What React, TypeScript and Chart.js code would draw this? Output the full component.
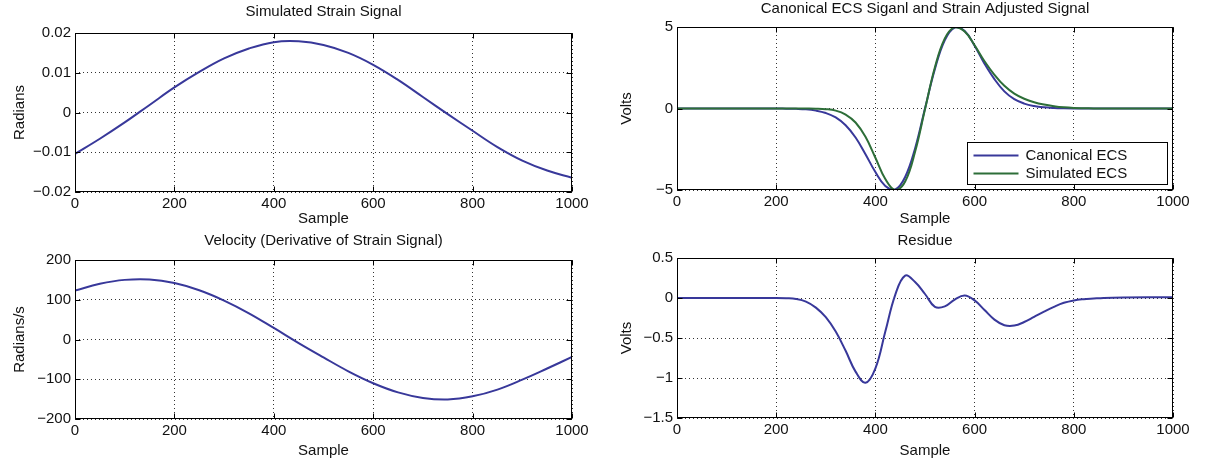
import React, { useEffect, useRef } from 'react';
import { Chart, registerables } from 'chart.js';

Chart.register(...registerables);

// ---------------- data ----------------
const xTicks = [0, 200, 400, 600, 800, 1000];
const strainTicks = [-0.02, -0.01, 0, 0.01, 0.02];
const ecsTicks = [-5, 0, 5];
const velocityTicks = [-200, -100, 0, 100, 200];
const residueTicks = [-1.5, -1, -0.5, 0, 0.5];

const sineSamples = [0, 50, 100, 150, 200, 250, 300, 350, 400, 450, 500, 550, 600, 650, 700, 750, 800, 850, 900, 950, 1000];
const strainValues = [-0.0104, -0.0066, -0.0025, 0.0019, 0.0063, 0.0102, 0.0136, 0.0161, 0.0177, 0.0179, 0.017, 0.015, 0.012, 0.0082, 0.0039, -0.0004, -0.0046, -0.0087, -0.0121, -0.0146, -0.0164];
const velocityValues = [123, 140, 150, 151, 142, 124, 98, 66, 29, -9, -45, -80, -110, -133, -147, -151, -143, -126, -101, -73, -44];

const ecsSamples = [0, 100, 200, 220, 240, 260, 280, 300, 320, 340, 360, 380, 400, 420, 440, 460, 480, 500, 520, 540, 560, 580, 600, 620, 640, 660, 680, 700, 720, 740, 760, 780, 800, 820, 840, 860, 900, 1000];
const canonicalEcs = [0, 0, 0, -0.01, -0.02, -0.05, -0.13, -0.28, -0.55, -1.03, -1.78, -2.8, -3.9, -4.75, -4.97, -4.2, -2.45, 0, 2.42, 4.2, 4.97, 4.75, 3.85, 2.75, 1.8, 1.05, 0.57, 0.3, 0.15, 0.07, 0.03, 0.01, 0, 0, 0, 0, 0, 0];
const simulatedEcs = [0, 0, 0, 0, 0, -0.003, -0.01, -0.04, -0.13, -0.37, -0.86, -1.74, -3.02, -4.33, -5.0, -4.48, -2.65, -0.05, 2.53, 4.3, 4.99, 4.72, 3.88, 2.9, 2.07, 1.39, 0.915, 0.6, 0.385, 0.24, 0.14, 0.07, 0.03, 0.015, 0.007, 0, 0, 0];

const residueSamples = [0, 100, 200, 220, 240, 260, 280, 300, 320, 340, 360, 380, 400, 420, 440, 460, 480, 500, 520, 540, 560, 580, 600, 620, 640, 660, 680, 700, 720, 740, 760, 780, 800, 820, 840, 860, 900, 1000];
const residueValues = [0, 0, 0, -0.003, -0.012, -0.045, -0.12, -0.24, -0.42, -0.66, -0.92, -1.06, -0.88, -0.42, 0.04, 0.28, 0.2, 0.05, -0.11, -0.105, -0.02, 0.03, -0.03, -0.15, -0.27, -0.34, -0.345, -0.3, -0.235, -0.17, -0.11, -0.06, -0.03, -0.015, -0.007, 0, 0.005, 0.01];

// ---------------- style ----------------
const FONT_FAMILY = "'Liberation Sans', Arial, Helvetica, sans-serif";
const FONT_SIZE = 15;
const LINE_H = FONT_SIZE * 1.2;
const TEXT = '#111111';
const BLUE = '#38389a';
const GREEN = '#2d6e38';

const fmt = (v: number) => {
  const r = Math.round(v * 1000) / 1000;
  if (r === 0) return '0';
  return r < 0 ? '\u2212' + String(-r) : String(r);
};

const pts = (xs: number[], ys: number[]) => xs.map((x, i) => ({ x, y: ys[i] }));

function boxPlugin(legend: boolean) {
  return {
    id: 'matlabBox',
    afterDraw(chart: any) {
      const { ctx, chartArea: a, scales } = chart;
      const L = Math.round(a.left) + 0.5;
      const R = Math.round(a.right) - 0.5;
      const T = Math.round(a.top) + 0.5;
      const B = Math.round(a.bottom) - 0.5;
      ctx.save();
      ctx.strokeStyle = '#000';
      ctx.lineWidth = 1;
      ctx.setLineDash([]);
      const tl = 5;
      ctx.beginPath();
      for (const t of scales.x.ticks) {
        const px = Math.round(scales.x.getPixelForValue(t.value)) + 0.5;
        ctx.moveTo(px, B);
        ctx.lineTo(px, B - tl);
        ctx.moveTo(px, T);
        ctx.lineTo(px, T + tl);
      }
      for (const t of scales.y.ticks) {
        const py = Math.round(scales.y.getPixelForValue(t.value)) + 0.5;
        ctx.moveTo(L, py);
        ctx.lineTo(L + tl, py);
        ctx.moveTo(R, py);
        ctx.lineTo(R - tl, py);
      }
      ctx.stroke();
      ctx.strokeRect(L, T, R - L, B - T);

      if (legend) {
        const w = 200;
        const h = 42;
        const bx = Math.round(a.right - 6 - w) + 0.5;
        const by = Math.round(a.bottom - 6 - h) + 0.5;
        ctx.fillStyle = '#fff';
        ctx.fillRect(bx, by, w, h);
        ctx.strokeStyle = '#000';
        ctx.lineWidth = 1;
        ctx.strokeRect(bx, by, w, h);
        ctx.font = `${FONT_SIZE}px ${FONT_FAMILY}`;
        ctx.textBaseline = 'middle';
        ctx.textAlign = 'left';
        chart.data.datasets.forEach((ds: any, i: number) => {
          const y = Math.round(by + 12 + i * 18) + 0.5;
          ctx.strokeStyle = ds.borderColor;
          ctx.lineWidth = 2;
          ctx.beginPath();
          ctx.moveTo(bx + 6, y);
          ctx.lineTo(bx + 51, y);
          ctx.stroke();
          ctx.fillStyle = TEXT;
          ctx.fillText(ds.label, bx + 58, y);
        });
      }
      ctx.restore();
    },
  };
}

type Spec = {
  left: number; top: number; width: number; height: number;
  plotLeft: number; plotRight: number; plotTop: number; plotBottom: number;
  titleY: number; xLabelY: number; yLabelX: number;
  title: string; yLabel: string;
  yMin: number; yMax: number; yTicks: number[];
  datasets: any[]; legend: boolean;
};

function makeConfig(s: Spec): any {
  const yW = s.plotLeft - s.left;
  const padRight = s.left + s.width - s.plotRight;
  const titleH = s.plotTop - s.top;
  const tPadTop = s.titleY - s.top - LINE_H / 2;
  const tPadBottom = titleH - LINE_H - tPadTop;
  const xH = s.top + s.height - s.plotBottom;
  const xTitlePadBottom = s.top + s.height - LINE_H / 2 - s.xLabelY;
  const yTitlePadTop = s.yLabelX - s.left - LINE_H / 2;
  const font = { family: FONT_FAMILY, size: FONT_SIZE, weight: 'normal' as const, lineHeight: 1.2 };
  const grid = { color: '#333', lineWidth: 1, drawTicks: false, tickLength: 0 };
  const border = { display: false, dash: [1, 3] };
  return {
    type: 'line',
    data: { datasets: s.datasets },
    options: {
      responsive: false,
      animation: false,
      events: [],
      layout: { padding: { left: 0, right: padRight, top: 0, bottom: 0 } },
      plugins: {
        legend: { display: false },
        tooltip: { enabled: false },
        title: {
          display: true,
          text: s.title,
          fullSize: false,
          color: TEXT,
          font,
          padding: { top: tPadTop, bottom: tPadBottom },
        },
      },
      elements: {
        point: { radius: 0 },
        line: { borderWidth: 2, tension: 0.4, fill: false },
      },
      scales: {
        x: {
          type: 'linear',
          min: 0,
          max: 1000,
          afterBuildTicks: (sc: any) => { sc.ticks = xTicks.map((v) => ({ value: v })); },
          afterFit: (sc: any) => { sc.height = xH; sc.paddingLeft = 0; sc.paddingRight = 0; },
          ticks: { padding: 3, color: TEXT, font, maxRotation: 0, autoSkip: false, callback: (v: any) => fmt(Number(v)) },
          grid,
          border,
          title: { display: true, text: 'Sample', color: TEXT, font, padding: { top: 0, bottom: xTitlePadBottom } },
        },
        y: {
          type: 'linear',
          min: s.yMin,
          max: s.yMax,
          afterBuildTicks: (sc: any) => { sc.ticks = s.yTicks.map((v) => ({ value: v })); },
          afterFit: (sc: any) => { sc.width = yW; sc.paddingTop = 0; sc.paddingBottom = 0; },
          ticks: { padding: 4, color: TEXT, font, autoSkip: false, callback: (v: any) => fmt(Number(v)) },
          grid,
          border,
          title: { display: true, text: s.yLabel, color: TEXT, font, padding: { top: yTitlePadTop, bottom: 0 } },
        },
      },
    },
    plugins: [boxPlugin(s.legend)],
  };
}

const specs: Spec[] = [
  {
    left: 0, top: 0, width: 600, height: 235,
    plotLeft: 75, plotRight: 572, plotTop: 33, plotBottom: 192,
    titleY: 12, xLabelY: 219, yLabelX: 20,
    title: 'Simulated Strain Signal', yLabel: 'Radians',
    yMin: -0.02, yMax: 0.02, yTicks: strainTicks,
    datasets: [{ label: 'Strain', data: pts(sineSamples, strainValues), borderColor: BLUE, backgroundColor: BLUE }],
    legend: false,
  },
  {
    left: 600, top: 0, width: 605, height: 235,
    plotLeft: 677, plotRight: 1173, plotTop: 27, plotBottom: 190,
    titleY: 9, xLabelY: 219, yLabelX: 627,
    title: 'Canonical ECS Siganl and Strain Adjusted Signal', yLabel: 'Volts',
    yMin: -5, yMax: 5, yTicks: ecsTicks,
    datasets: [
      { label: 'Canonical ECS', data: pts(ecsSamples, canonicalEcs), borderColor: BLUE, backgroundColor: BLUE, order: 1 },
      { label: 'Simulated ECS', data: pts(ecsSamples, simulatedEcs), borderColor: GREEN, backgroundColor: GREEN, order: 0 },
    ],
    legend: true,
  },
  {
    left: 0, top: 225, width: 600, height: 241,
    plotLeft: 75, plotRight: 572, plotTop: 260, plotBottom: 419,
    titleY: 241, xLabelY: 451, yLabelX: 20,
    title: 'Velocity (Derivative of Strain Signal)', yLabel: 'Radians/s',
    yMin: -200, yMax: 200, yTicks: velocityTicks,
    datasets: [{ label: 'Velocity', data: pts(sineSamples, velocityValues), borderColor: BLUE, backgroundColor: BLUE }],
    legend: false,
  },
  {
    left: 600, top: 225, width: 605, height: 241,
    plotLeft: 677, plotRight: 1173, plotTop: 258, plotBottom: 418,
    titleY: 241, xLabelY: 451, yLabelX: 627,
    title: 'Residue', yLabel: 'Volts',
    yMin: -1.5, yMax: 0.5, yTicks: residueTicks,
    datasets: [{ label: 'Residue', data: pts(residueSamples, residueValues), borderColor: BLUE, backgroundColor: BLUE }],
    legend: false,
  },
];

function Panel({ spec }: { spec: Spec }) {
  const ref = useRef<HTMLCanvasElement>(null);
  useEffect(() => {
    if (!ref.current) return;
    const chart = new Chart(ref.current, makeConfig(spec));
    return () => chart.destroy();
  }, [spec]);
  return (
    <div style={{ position: 'absolute', left: spec.left, top: spec.top, width: spec.width, height: spec.height }}>
      <canvas ref={ref} width={spec.width} height={spec.height} style={{ width: spec.width, height: spec.height, display: 'block' }} />
    </div>
  );
}

export default function App() {
  return (
    <div style={{ position: 'absolute', left: 0, top: 0, width: 1205, height: 466, background: '#fff', overflow: 'hidden' }}>
      {specs.map((s, i) => (
        <Panel key={i} spec={s} />
      ))}
    </div>
  );
}
